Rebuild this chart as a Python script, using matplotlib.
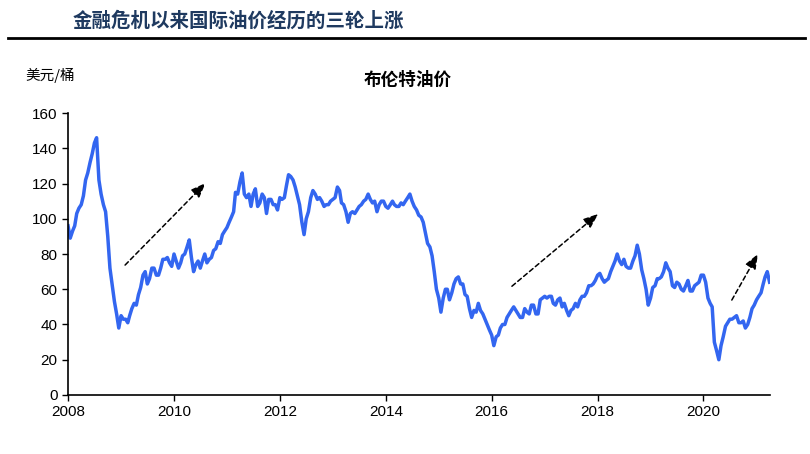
import matplotlib.pyplot as plt
import matplotlib.dates as mdates
import pandas as pd

plt.rcParams['font.family'] = ['Liberation Sans', 'Noto Sans CJK SC', 'DejaVu Sans']

# 布伦特油价, semi-monthly (1st / 16th), USD/bbl
brent_2008 = [96, 89, 93, 96, 103, 106, 108, 113, 122, 126, 132, 137,
              143, 146, 122, 114, 108, 104, 90, 72, 62, 53, 46, 38]
brent_2009 = [45, 43, 43, 41, 45, 49, 52, 51, 57, 61, 68, 70,
              63, 66, 72, 72, 68, 68, 72, 77, 77, 78, 75, 73]
brent_2010 = [80, 76, 72, 75, 79, 80, 84, 88, 78, 70, 74, 76,
              72, 76, 80, 75, 77, 78, 82, 83, 87, 86, 91, 93]
brent_2011 = [95, 98, 101, 104, 115, 114, 121, 126, 114, 112, 114, 107,
              114, 117, 107, 109, 114, 112, 103, 111, 111, 108, 108, 105]
brent_2012 = [112, 111, 112, 119, 125, 124, 122, 118, 113, 108, 98, 91,
              100, 104, 112, 116, 114, 111, 112, 110, 107, 108, 108, 110]
brent_2013 = [111, 112, 118, 116, 109, 108, 104, 98, 103, 104, 103, 105,
              107, 108, 110, 111, 114, 111, 109, 110, 104, 108, 110, 110]
brent_2014 = [107, 106, 108, 110, 108, 107, 107, 109, 108, 110, 112, 114,
              110, 107, 105, 102, 101, 98, 92, 86, 84, 79, 70, 60]
brent_2015 = [55, 47, 55, 60, 60, 54, 58, 63, 66, 67, 63, 63,
              57, 56, 49, 44, 48, 47, 52, 48, 46, 43, 40, 37]
brent_2016 = [34, 28, 33, 34, 38, 40, 40, 44, 46, 48, 50, 48,
              46, 44, 44, 49, 47, 46, 51, 51, 46, 46, 54, 55]
brent_2017 = [56, 55, 56, 56, 52, 51, 54, 55, 50, 52, 48, 45,
              48, 49, 52, 50, 54, 56, 56, 58, 62, 62, 63, 65]
brent_2018 = [68, 69, 66, 64, 65, 66, 70, 73, 76, 80, 76, 74,
              77, 73, 72, 72, 76, 79, 85, 80, 71, 66, 60, 51]
brent_2019 = [55, 61, 62, 66, 66, 67, 70, 75, 72, 70, 62, 61,
              64, 63, 60, 59, 62, 65, 59, 59, 62, 63, 64, 68]
brent_2020 = [68, 64, 55, 52, 50, 30, 25, 20, 28, 33, 39, 41,
              43, 43, 44, 45, 41, 41, 42, 38, 40, 44, 49, 51]
brent_2021 = [54, 56, 58, 63, 67, 70, 64]

brent = (brent_2008 + brent_2009 + brent_2010 + brent_2011 + brent_2012 +
         brent_2013 + brent_2014 + brent_2015 + brent_2016 + brent_2017 +
         brent_2018 + brent_2019 + brent_2020 + brent_2021)
dates = pd.date_range('2008-01-01', periods=len(brent), freq='SMS-16')

# three rounds of rise (start, end)
arrows = [
    (('2009-01-15', 72.6), ('2010-08-20', 121.4)),
    (('2016-05-05', 60.7), ('2018-01-20', 103.8)),
    (('2020-07-05', 52.5), ('2021-01-20', 81.4)),
]

cjk = ['Noto Sans CJK SC', 'DejaVu Sans']

fig = plt.figure(figsize=(8.1, 4.54), dpi=100)
fig.text(0.09, 0.955, '金融危机以来国际油价经历的三轮上涨', fontsize=14, fontweight='bold',
         color='#1F3A60', family=cjk, va='center')
fig.add_artist(plt.Line2D([0.01, 0.994], [0.916, 0.916], color='black', lw=2))
fig.text(0.031, 0.833, '美元/桶', fontsize=10.5, family=cjk, va='center')

ax = fig.add_axes([0.084, 0.130, 0.867, 0.621])
ax.plot(dates, brent, color='#3366F0', lw=2.5)
ax.set_title('布伦特油价', fontsize=12.7, fontweight='bold', pad=20, x=0.483,
             family=cjk)

for (x0, y0), (x1, y1) in arrows:
    ax.annotate('', xy=(pd.Timestamp(x1), y1), xytext=(pd.Timestamp(x0), y0),
                arrowprops=dict(arrowstyle='-|>,head_length=0.9,head_width=0.35',
                                color='black', lw=1.1, linestyle=(0, (3, 2))))

ax.set_ylim(0, 160)
ax.set_yticks(range(0, 161, 20))
ax.set_xlim(pd.Timestamp('2008-01-01'), pd.Timestamp('2021-04-06'))
ax.xaxis.set_major_locator(mdates.YearLocator(2))
ax.xaxis.set_major_formatter(mdates.DateFormatter('%Y'))
ax.tick_params(labelsize=11, direction='out', length=4, width=1)
for s in ['top', 'right']:
    ax.spines[s].set_visible(False)
for s in ['left', 'bottom']:
    ax.spines[s].set_linewidth(1.2)

fig.savefig('out.png', dpi=100)
